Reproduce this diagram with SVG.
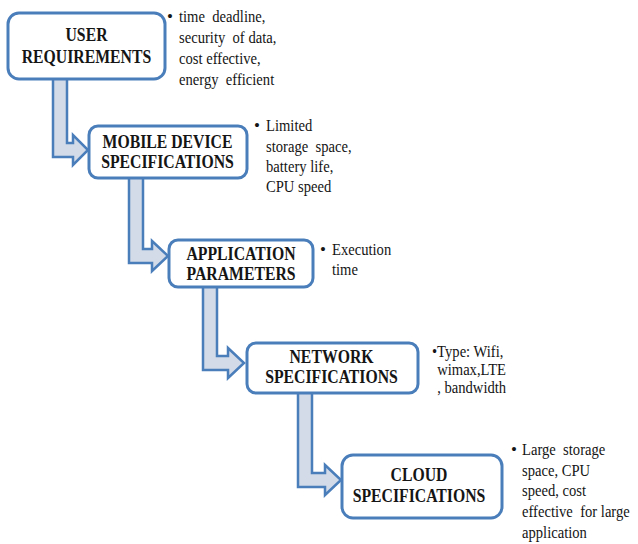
<svg xmlns="http://www.w3.org/2000/svg" width="638" height="544" viewBox="0 0 638 544">
<style>
.box{fill:#ffffff;stroke:#4a7ebb;stroke-width:3}
.con{fill:#d3dbe9;stroke:#4a7ebb;stroke-width:2.5;stroke-linejoin:miter}
.lbl{font-family:'Liberation Serif','DejaVu Serif',Times,serif;font-weight:bold;font-size:19px;text-anchor:middle;fill:#151515}
.side{font-family:'Liberation Serif','DejaVu Serif',Times,serif;font-size:17px;fill:#151515;white-space:pre}
</style>
<rect width="638" height="544" fill="#ffffff"/>
<g id="connectors">
<polygon class="con" points="53,78 67,78 67,143 73,143 73,135 88,150 73,165 73,157 53,157"/>
<polygon class="con" points="129,176 143,176 143,249 152,249 152,241 168,256 152,271 152,263 129,263"/>
<polygon class="con" points="203,285 217,285 217,356 228,356 228,348 244,363 228,378 228,370 203,370"/>
<polygon class="con" points="298,391 312,391 312,473 325,473 325,465 341,480 325,495 325,487 298,487"/>
</g>
<g id="user-requirements">
<rect class="box" x="8" y="13" width="157" height="66" rx="11"/>
<text class="lbl" font-family="Liberation Serif, serif" transform="translate(86.5,0) scale(0.83,1)"><tspan x="0" y="41">USER</tspan><tspan x="0" y="63">REQUIREMENTS</tspan></text>
</g>
<g id="mobile-device">
<rect class="box" x="89" y="126" width="158" height="52" rx="9"/>
<text class="lbl" transform="translate(167.5,0) scale(0.83,1)"><tspan x="0" y="148">MOBILE DEVICE</tspan><tspan x="0" y="168">SPECIFICATIONS</tspan></text>
</g>
<g id="application">
<rect class="box" x="169" y="240" width="144" height="47" rx="9"/>
<text class="lbl" transform="translate(241,0) scale(0.83,1)"><tspan x="0" y="260">APPLICATION</tspan><tspan x="0" y="280">PARAMETERS</tspan></text>
</g>
<g id="network">
<rect class="box" x="247" y="343" width="171" height="50" rx="9"/>
<text class="lbl" transform="translate(331.5,0) scale(0.83,1)"><tspan x="0" y="363">NETWORK</tspan><tspan x="0" y="383">SPECIFICATIONS</tspan></text>
</g>
<g id="cloud">
<rect class="box" x="342" y="455" width="160" height="63" rx="11"/>
<text class="lbl" transform="translate(419,0) scale(0.83,1)"><tspan x="0" y="481">CLOUD</tspan><tspan x="0" y="502">SPECIFICATIONS</tspan></text>
</g>
<g id="notes">
<text class="side" x="167" y="22">•</text>
<text class="side" transform="translate(179,0) scale(0.86,1)"><tspan x="0" y="22">time  deadline,</tspan><tspan x="0" y="43">security  of data,</tspan><tspan x="0" y="64">cost effective,</tspan><tspan x="0" y="85">energy  efficient</tspan></text>
<text class="side" x="254" y="131">•</text>
<text class="side" transform="translate(266,0) scale(0.86,1)"><tspan x="0" y="131">Limited</tspan><tspan x="0" y="152">storage  space,</tspan><tspan x="0" y="172">battery life,</tspan><tspan x="0" y="192">CPU speed</tspan></text>
<text class="side" x="320" y="255">•</text>
<text class="side" transform="translate(332,0) scale(0.86,1)"><tspan x="0" y="255">Execution</tspan><tspan x="0" y="275">time</tspan></text>
<text class="side" transform="translate(432,0) scale(0.86,1)"><tspan x="0" y="357">•Type: Wifi,</tspan><tspan x="6" y="375">wimax,LTE</tspan><tspan x="6" y="393">, bandwidth</tspan></text>
<text class="side" x="511" y="455">•</text>
<text class="side" transform="translate(522,0) scale(0.86,1)"><tspan x="0" y="455">Large  storage</tspan><tspan x="0" y="476">space, CPU</tspan><tspan x="0" y="496">speed, cost</tspan><tspan x="0" y="517">effective  for large</tspan><tspan x="0" y="538">application</tspan></text>
</g>
</svg>
